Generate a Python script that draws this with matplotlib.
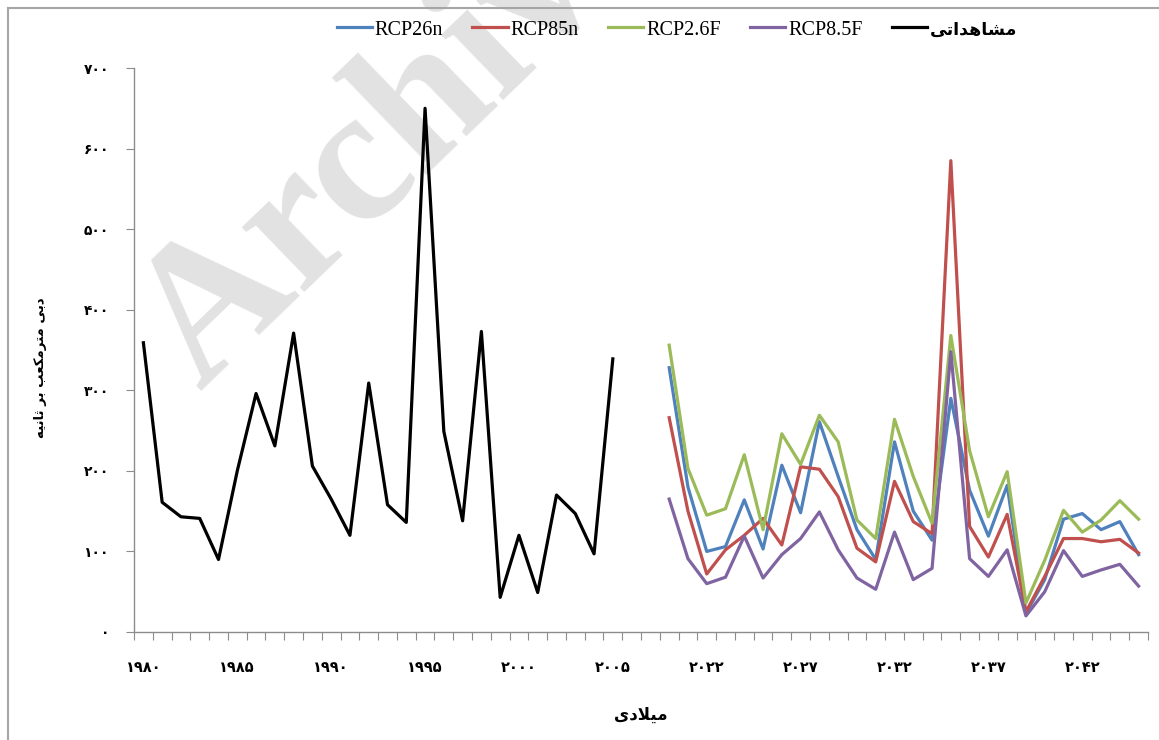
import matplotlib
matplotlib.use('Agg')
import matplotlib.pyplot as plt
from matplotlib.lines import Line2D

# category axis: observed years, two empty slots, then the scenario years
hist_years = list(range(1980, 2006))
future_years = list(range(2020, 2046))
axis_years = list(range(1980, 2008)) + future_years
label_years = [1980, 1985, 1990, 1995, 2000, 2005, 2022, 2027, 2032, 2037, 2042]
y_ticks = [0, 100, 200, 300, 400, 500, 600, 700]

# observed discharge (m3/s)
observed = [359, 161, 143, 141, 90, 200, 296, 231, 371, 206, 165, 120, 309,
            158, 136, 650, 249, 138, 373, 43, 120, 49, 170, 147, 97, 339]

# scenarios 2020-2045
rcp26n = [328, 180, 100, 106, 164, 103, 207, 148, 261, 193, 127, 90, 236,
          150, 114, 290, 176, 119, 182, 23, 65, 140, 147, 127, 137, 96]
rcp85n = [266, 150, 72, 102, 120, 141, 108, 205, 202, 168, 104, 87, 187,
          137, 122, 585, 131, 93, 146, 25, 69, 116, 116, 112, 115, 98]
rcp26f = [356, 203, 145, 153, 220, 127, 246, 208, 269, 236, 139, 116, 264,
          193, 135, 368, 225, 143, 199, 36, 89, 151, 124, 139, 163, 140]
rcp85f = [165, 91, 60, 68, 119, 67, 96, 116, 149, 102, 67, 53, 124,
          65, 79, 348, 91, 69, 102, 20, 50, 101, 69, 77, 84, 57]

series = [('RCP26n', rcp26n, '#4F81BD'),
          ('RCP85n', rcp85n, '#C0504D'),
          ('RCP2.6F', rcp26f, '#9BBB59'),
          ('RCP8.5F', rcp85f, '#8064A2')]

# persian text written with arabic presentation forms, reversed to visual order
# (matplotlib does no shaping or bidi)
obs_label = '\uFEE3\uFEB8\uFE8E\uFEEB\uFEAA\uFE8D\uFE97\uFBFD'[::-1]
x_label = '\uFEE3\uFBFF\uFEFC\uFEA9\uFBFC'[::-1]
y_label = ('\uFEA9\uFE91\uFBFD \uFEE3\uFE98\uFEAE\uFEE3\uFB91\uFECC\uFE90 '
           '\uFE91\uFEAE \uFE9B\uFE8E\uFEE7\uFBFF\uFEEA')[::-1]

fa_digits = str.maketrans('0123456789', '\u06F0\u06F1\u06F2\u06F3\u06F4\u06F5\u06F6\u06F7\u06F8\u06F9')


def fa(n):
    return str(n).translate(fa_digits)


fa_font = ['DejaVu Sans']
W, H = 1159, 740
fig = plt.figure(figsize=(W / 100, H / 100), dpi=100)
ax = fig.add_axes([134 / W, 1 - 632 / H, (1148 - 134) / W, (632 - 68) / H])

# watermark of the source page, runs off the top like in the original
ax.text(200 / W, 1 - 392 / H, 'Archive', transform=fig.transFigure, rotation=44,
        rotation_mode='anchor', ha='left', va='baseline', fontsize=140,
        fontweight='bold', family='Liberation Serif', color='#e2e2e2',
        zorder=0.5, clip_on=False)

hx = [axis_years.index(y) for y in hist_years]
fx = [axis_years.index(y) for y in future_years]

handles = []
for name, vals, col in series:
    ln, = ax.plot(fx, vals, color=col, lw=2.3, zorder=3)
    handles.append((ln, name))
obs_ln, = ax.plot(hx, observed, color='black', lw=2.3, zorder=3)
handles.append((obs_ln, obs_label))

ax.set_xlim(-0.5, len(axis_years) - 0.5)
ax.set_ylim(0, 700)

for side in ['top', 'right']:
    ax.spines[side].set_visible(False)
for side in ['left', 'bottom']:
    ax.spines[side].set_color('#8c8c8c')
    ax.spines[side].set_linewidth(1.0)

# tick marks between categories, labels every 5th slot
ax.set_xticks([i - 0.5 for i in range(len(axis_years) + 1)])
ax.set_xticklabels([])
ax.tick_params(axis='x', which='major', length=6, color='#8c8c8c', direction='out')
lab_pos = [axis_years.index(y) for y in label_years]
ax.set_xticks(lab_pos, minor=True)
ax.set_xticklabels([fa(y) for y in label_years], minor=True,
                   family=fa_font, fontsize=10.5, fontweight='bold')
ax.tick_params(axis='x', which='minor', length=0, pad=20)

ax.set_yticks(y_ticks)
ax.set_yticklabels([fa(v) for v in y_ticks], family=fa_font, fontsize=10, fontweight='bold')
ax.tick_params(axis='y', length=6, color='#8c8c8c', direction='out', pad=12)

ax.set_xlabel(x_label, family=fa_font, fontsize=12, fontweight='bold')
ax.xaxis.set_label_coords(0.5, -0.13)
ax.set_ylabel(y_label, family=fa_font, fontsize=9.5, fontweight='bold')
ax.yaxis.set_label_coords(-0.086, 0.468)

leg = fig.legend([h for h, _ in handles], [n for _, n in handles],
                 loc='center', bbox_to_anchor=(677 / W, 1 - 30 / H), ncol=5,
                 frameon=False, handlelength=1.75, handletextpad=0.15,
                 columnspacing=1.45, prop={'family': ['Liberation Serif', 'DejaVu Sans'], 'size': 14.5})
obs_txt = leg.get_texts()[-1]
obs_txt.set_family(fa_font)
obs_txt.set_fontweight('bold')
obs_txt.set_fontsize(12.5)

# outer chart frame (top and left edges visible)
fig.add_artist(Line2D([8 / W, 1], [1 - 8 / H, 1 - 8 / H], transform=fig.transFigure,
                      color='#a6a6a6', lw=1.5))
fig.add_artist(Line2D([8 / W, 8 / W], [0, 1 - 8 / H], transform=fig.transFigure,
                      color='#a6a6a6', lw=1.5))

fig.savefig('out.png', dpi=100)
